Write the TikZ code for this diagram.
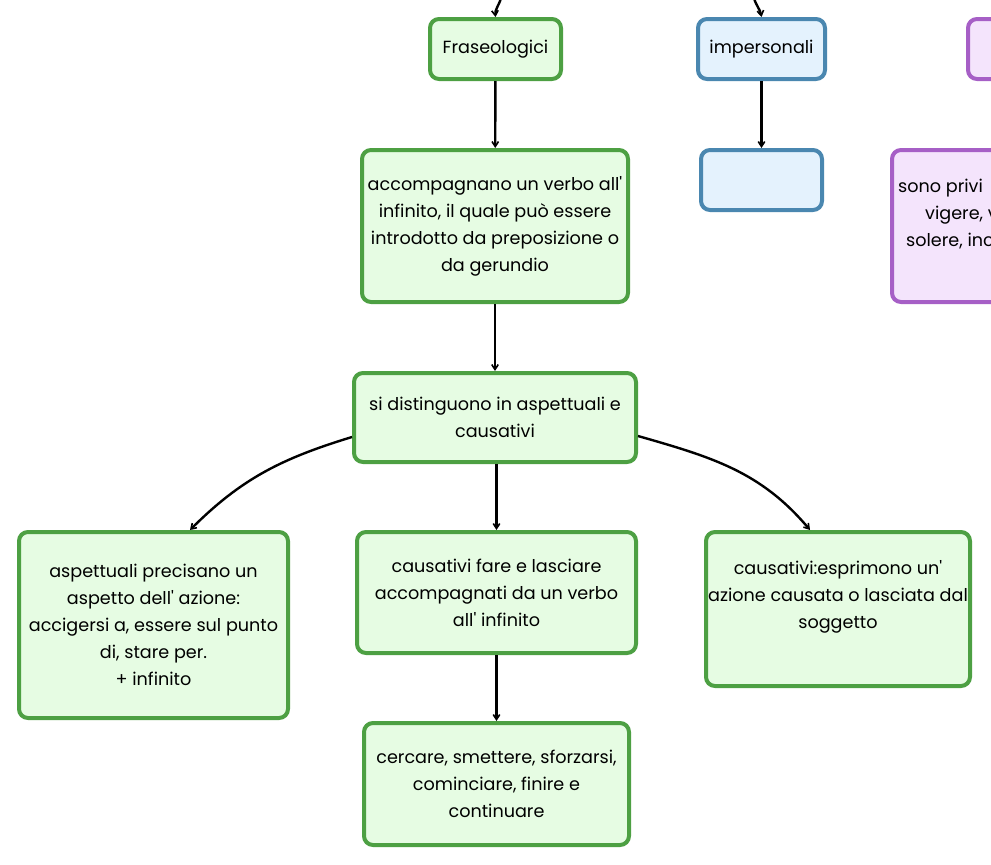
\documentclass[tikz,border=0pt]{standalone}
\usepackage{fontspec}
\setmainfont{Poppins}[Ligatures=TeXOff]
\usetikzlibrary{arrows.meta}
\definecolor{gborder}{HTML}{4DA043}
\definecolor{gfill}{HTML}{E6FCE3}
\definecolor{bborder}{HTML}{4A87B0}
\definecolor{bfill}{HTML}{E4F2FD}
\definecolor{pborder}{HTML}{A65FC6}
\definecolor{pfill}{HTML}{F4E4FC}
\tikzset{
  x=1pt, y=-1pt,
  box/.style={draw, rounded corners=9pt, line width=4pt, inner sep=0pt,
    align=center, font=\fontsize{17.6}{27}\selectfont, text=black},
  gbox/.style={box, draw=gborder, fill=gfill},
  bbox/.style={box, draw=bborder, fill=bfill},
  pbox/.style={box, draw=pborder, fill=pfill},
  conn/.style={draw=black, line width=2.4pt, -{Straight Barb[length=5pt,width=6.5pt,line width=1.6pt]}},
  ptext/.style={font=\fontsize{17.6}{27}\selectfont, inner sep=0pt, anchor=base west}
}
\begin{document}
\begin{tikzpicture}
\useasboundingbox (0,0) rectangle (991,865);
\clip (0,0) rectangle (991,865);
% boxes
\node[gbox, minimum width=131pt, minimum height=60pt] (fras) at (495.5,49) {Fraseologici};
\node[bbox, minimum width=127pt, minimum height=60pt] (imp) at (761.5,49) {impersonali};
\node[pbox, minimum width=130pt, minimum height=60pt, anchor=west] (ptop) at (966,49) {};
\node[gbox, minimum width=266pt, minimum height=152pt] (acc) at (495,226)
  {accompagnano un verbo all'\\infinito, il quale può essere\\introdotto da preposizione o\\da gerundio};
\node[bbox, minimum width=121pt, minimum height=60pt] (blank) at (761.5,180) {};
\node[pbox, minimum width=266pt, minimum height=152pt, anchor=west] (pbig) at (890,226) {};
\node[ptext] (pl1) at (898,192) {sono privi};
\node[ptext] (pl2) at (925,219) {vigere, vertere,};
\node[ptext] (pl3) at (906,246) {solere, incombere};
\node[gbox, minimum width=282pt, minimum height=89pt] (dist) at (495,417.5)
  {si distinguono in aspettuali e\\causativi};
\node[gbox, minimum width=269pt, minimum height=186pt] (asp) at (153.5,625)
  {aspettuali precisano un\\aspetto dell' azione:\\accigersi a, essere sul punto\\di, stare per.\\+ infinito};
\node[gbox, minimum width=279pt, minimum height=121pt] (cf) at (496.5,592.5)
  {causativi fare e lasciare\\accompagnati da un verbo\\all' infinito};
\node[gbox, minimum width=264pt, minimum height=154pt] (caus) at (838,609)
  {causativi:esprimono un'\\azione causata o lasciata dal\\soggetto\\[3pt]};
\node[gbox, minimum width=265pt, minimum height=122pt] (cerc) at (496.5,784)
  {cercare, smettere, sforzarsi,\\cominciare, finire e\\continuare};
% connectors
\coordinate (in1) at (501,-2);
\coordinate (in2) at (754,-2);
\draw[conn] (in1) to[out=-105,in=95] (fras.north);
\draw[conn] (in2) to[out=-75,in=100] (imp.north);
\draw[conn] (fras) -- (acc);
\draw[conn] (imp) -- (blank);
\draw[conn] (acc) -- (dist);
\draw[conn] ([yshift=-19.5pt]dist.west) to[out=-163,in=45] ([xshift=36.5pt]asp.north);
\draw[conn] (dist.south -| cf.north) -- (cf.north);
\draw[conn] ([yshift=-18.5pt]dist.east) to[out=-16,in=130] ([xshift=-28pt]caus.north);
\draw[conn] (cf) -- (cerc);
\end{tikzpicture}
\end{document}
